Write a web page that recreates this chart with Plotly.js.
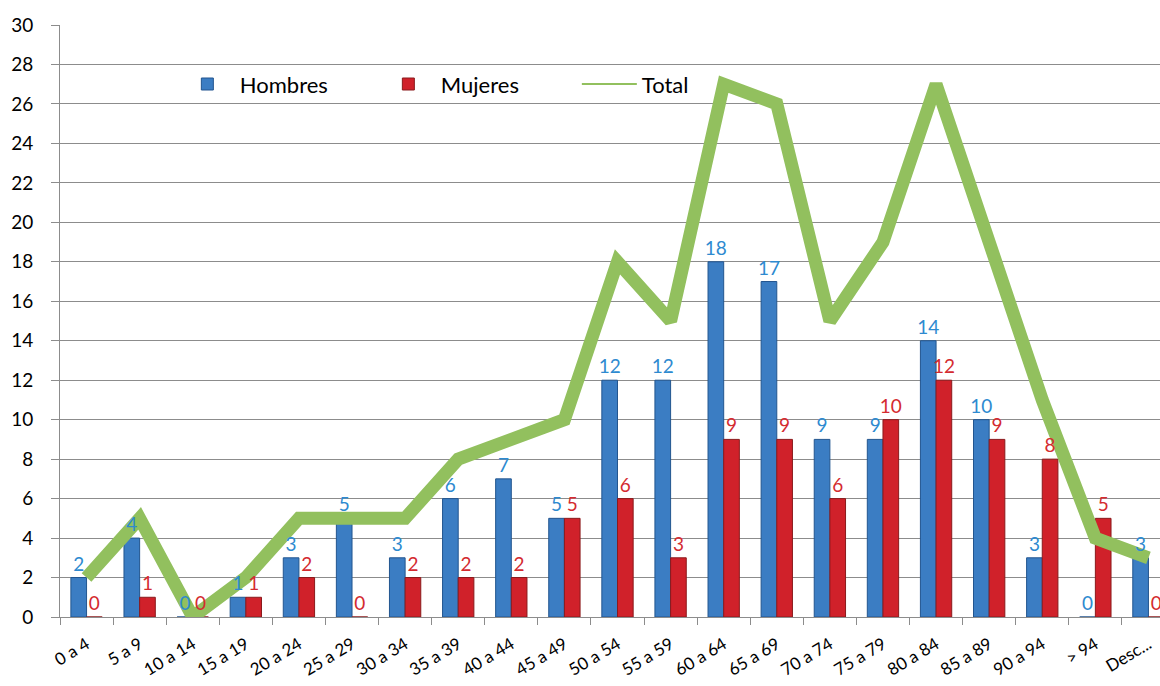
<!DOCTYPE html>
<html>
<head>
<meta charset="utf-8">
<script src="https://cdn.plot.ly/plotly-3.0.1.min.js"></script>
<style>
html, body { margin: 0; padding: 0; overflow: hidden; background: #fff; }
#chart { width: 1180px; height: 686px; }
</style>
</head>
<body>
<div id="chart"></div>
<script>
const categories = ["0 a 4", "5 a 9", "10 a 14", "15 a 19", "20 a 24", "25 a 29", "30 a 34",
  "35 a 39", "40 a 44", "45 a 49", "50 a 54", "55 a 59", "60 a 64", "65 a 69", "70 a 74",
  "75 a 79", "80 a 84", "85 a 89", "90 a 94", "> 94", "Desc..."];
const hombres = [2, 4, 0, 1, 3, 5, 3, 6, 7, 5, 12, 12, 18, 17, 9, 9, 14, 10, 3, 0, 3];
const mujeres = [0, 1, 0, 1, 2, 0, 2, 2, 2, 5, 6, 3, 9, 9, 6, 10, 12, 9, 8, 5, 0];
const total = [2, 5, 0, 2, 5, 5, 5, 8, 9, 10, 18, 15, 27, 26, 15, 19, 27, 19, 11, 4, 3];
const yTicks = [0, 2, 4, 6, 8, 10, 12, 14, 16, 18, 20, 22, 24, 26, 28, 30];

const FONT = "Lato, 'Open Sans', sans-serif";
const BLUE = "#3B7DC3", BLUE_LINE = "#22558F", BLUE_TXT = "#2E8AD0";
const RED = "#D0212A", RED_LINE = "#8A1A1C", RED_TXT = "#D42B30";
const GREEN = "#92C05E";

const traces = [
  { type: "bar", name: "Hombres", x: categories, y: hombres,
    marker: { color: BLUE, line: { color: BLUE_LINE, width: 1 } }, hoverinfo: "skip" },
  { type: "bar", name: "Mujeres", x: categories, y: mujeres,
    marker: { color: RED, line: { color: RED_LINE, width: 1 } }, hoverinfo: "skip" },
  { type: "scatter", mode: "lines", name: "Total", x: categories, y: total, showlegend: false,
    line: { color: GREEN, width: 13 }, hoverinfo: "skip" },
  // legend entry for Total (thin line symbol, draws nothing)
  { type: "scatter", mode: "lines", name: "Total", x: [null], y: [null], showlegend: true,
    line: { color: GREEN, width: 2 }, hoverinfo: "skip" },
  // label layers drawn above the line
  { type: "bar", x: categories, y: hombres, yaxis: "y2", showlegend: false,
    marker: { color: "rgba(0,0,0,0)" }, text: hombres.map(String), textposition: "outside",
    cliponaxis: false, constraintext: "none",
    outsidetextfont: { family: FONT, size: 19, color: BLUE_TXT }, hoverinfo: "skip" },
  { type: "bar", x: categories, y: mujeres, yaxis: "y2", showlegend: false,
    marker: { color: "rgba(0,0,0,0)" }, text: mujeres.map(String), textposition: "outside",
    cliponaxis: false, constraintext: "none",
    outsidetextfont: { family: FONT, size: 19, color: RED_TXT }, hoverinfo: "skip" }
];

const layout = {
  width: 1180, height: 686,
  margin: { l: 60, r: 5, t: 25, b: 69 },
  paper_bgcolor: "#fff", plot_bgcolor: "#fff",
  font: { family: FONT, color: "#000" },
  barmode: "group", bargap: 0.41, bargroupgap: 0,
  showlegend: true,
  legend: { orientation: "h", x: 0.103, xanchor: "left", y: 0.9, yanchor: "middle",
    bgcolor: "rgba(0,0,0,0)", font: { family: FONT, size: 22, color: "#000" },
    entrywidth: 131, entrywidthmode: "pixels", itemwidth: 55, traceorder: "normal" },
  xaxis: { type: "category", range: [-0.5, 20.5], showgrid: false,
    showline: true, linecolor: "#8C8C8C", linewidth: 1,
    ticks: "outside", tickson: "boundaries", ticklen: 7, tickcolor: "#8C8C8C",
    ticklabelstandoff: 10,
    tickangle: -31, tickfont: { family: FONT, size: 17, color: "#000" }, zeroline: false },
  yaxis: { range: [0, 30], tickvals: yTicks, ticktext: yTicks.map(String),
    showgrid: true, gridcolor: "#8C8C8C", gridwidth: 1,
    showline: true, linecolor: "#8C8C8C", linewidth: 1,
    ticks: "outside", ticklen: 8, tickcolor: "#8C8C8C", ticklabelstandoff: 14,
    tickfont: { family: FONT, size: 19, color: "#000" }, zeroline: false },
  yaxis2: { range: [0, 30], overlaying: "y", visible: false, showgrid: false, zeroline: false },
  hovermode: false
};

Plotly.newPlot("chart", traces, layout, { displayModeBar: false, staticPlot: true });
</script>
</body>
</html>
